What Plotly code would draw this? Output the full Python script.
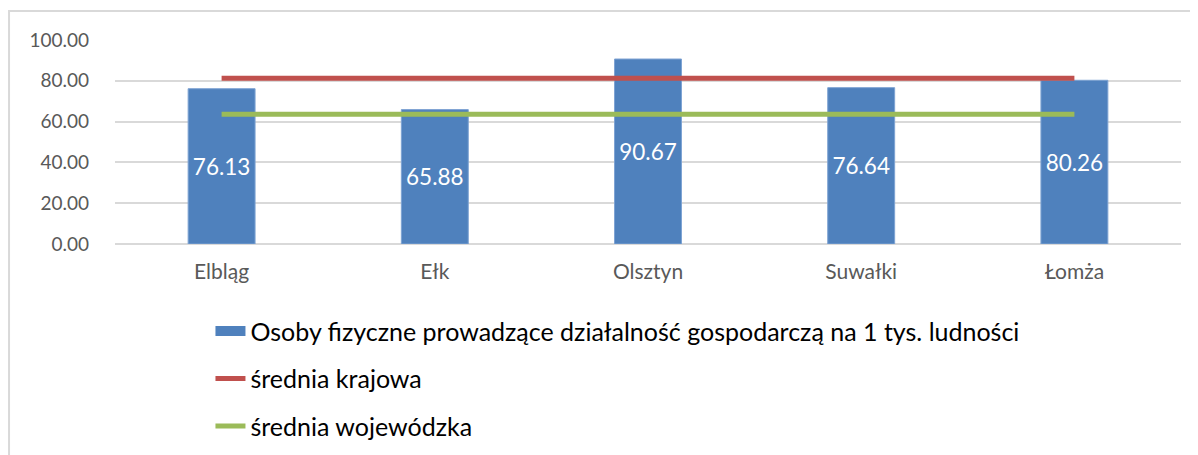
import plotly.graph_objects as go

cities = ["Elbląg", "Ełk", "Olsztyn", "Suwałki", "Łomża"]
persons_per_1000 = [76.13, 65.88, 90.67, 76.64, 80.26]
national_avg = [81.2, 81.2, 81.2, 81.2, 81.2]
voivodeship_avg = [63.6, 63.6, 63.6, 63.6, 63.6]
y_ticks = [0, 20, 40, 60, 80, 100]
y_tick_labels = ["0.00", "20.00", "40.00", "60.00", "80.00", "100.00"]

name_bar = "Osoby fizyczne prowadzące działalność gospodarczą na 1 tys. ludności"
name_nat = "średnia krajowa"
name_voi = "średnia wojewódzka"

BLUE = "#4F81BD"
RED = "#C0504D"
GREEN = "#9BBB59"
FONT = "Lato"

fig = go.Figure()
fig.add_trace(go.Bar(
    x=cities, y=persons_per_1000, name=name_bar, showlegend=False,
    marker=dict(color=BLUE, line=dict(color="#7ea3d3", width=1)),
    text=[f"{v:.2f}" for v in persons_per_1000],
    textposition="inside", insidetextanchor="middle",
    textfont=dict(color="white", size=22.5, family=FONT),
    hoverinfo="x+y",
))
# legend entry for the bar series (wide swatch like the original)
fig.add_trace(go.Scatter(
    x=[None], y=[None], mode="lines", name=name_bar, legendgroup="g1",
    line=dict(color=BLUE, width=14), hoverinfo="skip",
))
fig.add_trace(go.Scatter(
    x=cities, y=national_avg, mode="lines", name=name_nat, legendgroup="g2",
    line=dict(color=RED, width=5), hoverinfo="x+y",
))
fig.add_trace(go.Scatter(
    x=cities, y=voivodeship_avg, mode="lines", name=name_voi, legendgroup="g3",
    line=dict(color=GREEN, width=5), hoverinfo="x+y",
))

fig.update_layout(
    width=1198, height=455,
    margin=dict(l=107, r=25, t=32, b=219, autoexpand=False),
    paper_bgcolor="white", plot_bgcolor="white",
    font=dict(family=FONT, color="#595959"),
    bargap=0.686,
    legend=dict(
        orientation="v", xref="container", yref="container",
        x=0.169, xanchor="left", y=0.34, yanchor="top",
        font=dict(size=25, color="#000000", family=FONT),
        tracegroupgap=12, bgcolor="rgba(0,0,0,0)",
    ),
    xaxis=dict(
        type="category", showgrid=False, showline=False, ticks="",
        tickfont=dict(size=21, color="#595959"), ticklabelstandoff=13,
    ),
    yaxis=dict(
        range=[0, 100], tickvals=y_ticks, ticktext=y_tick_labels,
        showgrid=True, gridcolor="#d9d9d9", gridwidth=1.5,
        zeroline=True, zerolinecolor="#d9d9d9", zerolinewidth=1.5,
        showline=False, ticks="",
        tickfont=dict(size=19, color="#595959"), ticklabelstandoff=25,
    ),
    shapes=[dict(
        type="rect", xref="paper", yref="paper",
        x0=-0.0994, x1=1.2, y0=-1.5, y1=1.142,
        line=dict(color="#d9d9d9", width=2), fillcolor="rgba(0,0,0,0)",
        layer="below",
    )],
)

fig.write_html("out.html")
